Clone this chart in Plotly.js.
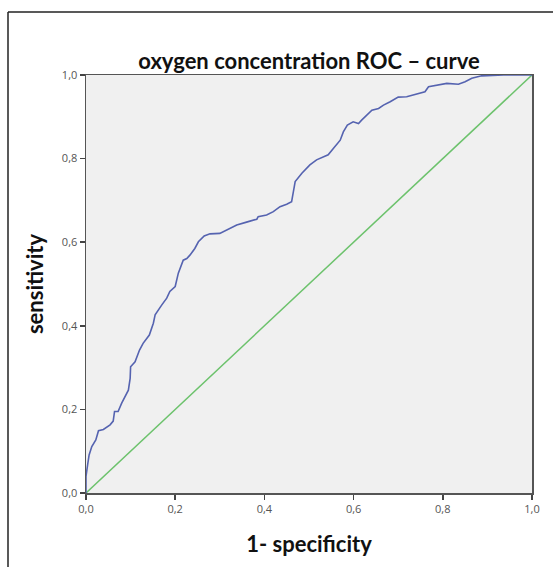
<!DOCTYPE html>
<html>
<head>
<meta charset="utf-8">
<script src="https://cdn.plot.ly/plotly-3.0.1.min.js"></script>
<style>html,body{margin:0;padding:0;background:#fff;}#chart{width:553px;height:567px;}</style>
</head>
<body>
<div id="chart"></div>
<script>
// ROC curve points (1 - specificity, sensitivity)
const fpr = [0.000,0.000,0.004,0.007,0.013,0.022,0.028,0.039,0.054,0.061,0.064,0.072,0.080,0.095,0.099,0.100,0.110,0.120,0.128,0.142,0.151,0.155,0.170,0.181,0.188,0.200,0.207,0.218,0.226,0.233,0.244,0.252,0.265,0.278,0.300,0.315,0.338,0.360,0.383,0.386,0.405,0.420,0.435,0.450,0.461,0.465,0.469,0.484,0.502,0.517,0.543,0.555,0.570,0.577,0.586,0.599,0.611,0.618,0.641,0.656,0.667,0.682,0.700,0.719,0.745,0.760,0.768,0.786,0.809,0.835,0.850,0.865,0.887,0.936,1.000];
const tpr = [0.000,0.040,0.070,0.091,0.111,0.127,0.149,0.152,0.163,0.172,0.195,0.195,0.215,0.246,0.274,0.302,0.314,0.342,0.358,0.378,0.406,0.426,0.450,0.466,0.482,0.494,0.526,0.557,0.561,0.569,0.585,0.601,0.615,0.620,0.621,0.629,0.641,0.648,0.655,0.661,0.665,0.673,0.685,0.691,0.697,0.721,0.745,0.765,0.785,0.797,0.809,0.825,0.844,0.864,0.880,0.888,0.884,0.892,0.916,0.920,0.928,0.936,0.947,0.948,0.956,0.960,0.972,0.976,0.980,0.978,0.984,0.992,0.998,1.000,1.000];
const refX = [0, 1];
const refY = [0, 1];
const tickVals = [0, 0.2, 0.4, 0.6, 0.8, 1.0];
const tickText = ["0,0", "0,2", "0,4", "0,6", "0,8", "1,0"];

const titleFont = {family: "Lato, 'Open Sans', sans-serif", size: 22, color: "#111", weight: 700};
const tickFont = {family: "'Open Sans', 'DejaVu Sans', sans-serif", size: 11, color: "#555"};

const traces = [
  {x: refX, y: refY, type: "scatter", mode: "lines", line: {color: "#6cc26c", width: 1.5}, hoverinfo: "skip"},
  {x: fpr, y: tpr, type: "scatter", mode: "lines", line: {color: "#5563b0", width: 1.6, shape: "linear"}}
];

const layout = {
  width: 553, height: 567,
  margin: {l: 86, r: 21, t: 75, b: 74},
  paper_bgcolor: "#ffffff",
  plot_bgcolor: "#f0f0f0",
  showlegend: false,
  title: {text: "<b>oxygen concentration ROC – curve</b>", font: titleFont, x: (86 + 532) / 2 / 553, xanchor: "center", y: 1 - 61 / 567, yanchor: "middle", yref: "container"},
  xaxis: {
    range: [0, 1], tickvals: tickVals, ticktext: tickText, tickfont: tickFont,
    ticks: "outside", ticklen: 5, tickwidth: 1.5, tickcolor: "#444",
    showline: true, linecolor: "#555", linewidth: 1.5, mirror: true,
    showgrid: false, zeroline: false,
    title: {text: "<b>1- specificity</b>", font: titleFont, standoff: 22}
  },
  yaxis: {
    range: [0, 1], tickvals: tickVals, ticktext: tickText, tickfont: tickFont,
    ticks: "outside", ticklen: 5, tickwidth: 1.5, tickcolor: "#444",
    showline: true, linecolor: "#555", linewidth: 1.5, mirror: true,
    showgrid: false, zeroline: false,
    title: {text: "<b>sensitivity</b>", font: titleFont, standoff: 12}
  },
  shapes: [
    {type: "line", xref: "paper", yref: "paper", x0: (8 - 86) / 446, x1: (560 - 86) / 446, y0: (493 - 12) / 418, y1: (493 - 12) / 418, line: {color: "#222", width: 1.5}},
    {type: "line", xref: "paper", yref: "paper", x0: (8 - 86) / 446, x1: (8 - 86) / 446, y0: (493 - 12) / 418, y1: (493 - 580) / 418, line: {color: "#222", width: 1.5}}
  ]
};

Plotly.newPlot("chart", traces, layout, {displayModeBar: false, staticPlot: true});
</script>
</body>
</html>
